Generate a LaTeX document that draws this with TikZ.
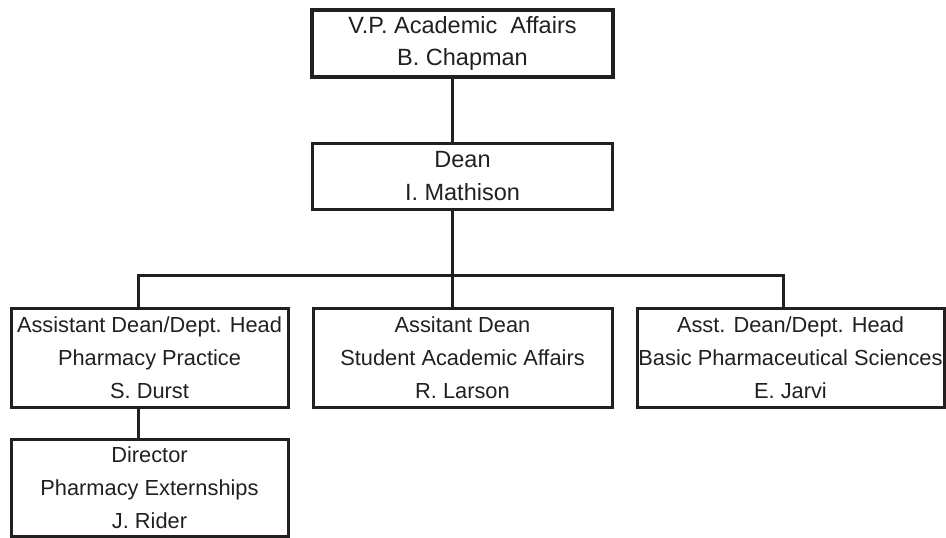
\documentclass[tikz,border=0pt]{standalone}
\usepackage{fontspec}
\setmainfont{Liberation Sans}
\usetikzlibrary{positioning}
\definecolor{ink}{HTML}{231F20}

\begin{document}
\begin{tikzpicture}[x=1pt, y=-1pt, line width=3pt, color=ink, line join=miter,
        office/.style={draw, inner sep=0pt, outer sep=0pt, align=center, font=\fontsize{21.8}{33}\selectfont},
        upper/.style={office, font=\fontsize{23.5}{32.5}\selectfont, minimum width=300pt, minimum height=66pt},
        lower/.style={office, minimum height=99pt}]
                \useasboundingbox (0,0) rectangle (946,538);

                \node[upper, line width=4.2pt, minimum width=301pt, minimum height=67pt] (vp) at (462.5,43.5) {V.P. Academic\ \ Affairs\\B. Chapman};
                \node[upper, below=66pt of vp] (dean) {Dean\\I. Mathison};
                \node[lower, below=99pt of dean, minimum width=299pt] (saa) {Assitant Dean\\Student Academic Affairs\\R. Larson};
                \node[lower, left=25pt of saa, minimum width=277pt] (pp) {Assistant Dean/Dept. Head\\Pharmacy Practice\\S. Durst};
                \node[lower, right=25pt of saa, minimum width=307pt] (bps) {Asst. Dean/Dept. Head\\Basic Pharmaceutical Sciences\\E. Jarvi};
                \node[lower, below=32pt of pp, minimum width=277pt, minimum height=97pt] (dir) {Director\\Pharmacy Externships\\J. Rider};

                % where the lines run
                \coordinate (trunk) at (452,0);
                \coordinate (lft) at (138,0);
                \coordinate (rgt) at (783,0);
                \coordinate (bar) at (0,275);

                \draw (vp.south -| trunk) -- (dean.north -| trunk);
                \draw (dean.south -| trunk) -- (bar -| trunk) -- (saa.north -| trunk);
                \draw (pp.north -| lft) |- (bar -| rgt) -- (bps.north -| rgt);
                \draw (pp.south -| lft) -- (dir.north -| lft);

             \end{tikzpicture}
\end{document}
